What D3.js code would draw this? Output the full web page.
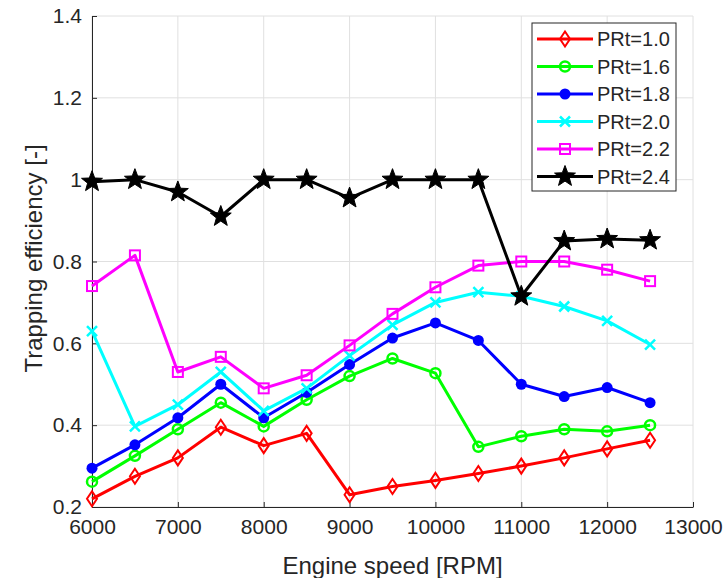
<!DOCTYPE html>
<html>
<head>
<meta charset="utf-8">
<script src="https://cdn.jsdelivr.net/npm/d3@7"></script>
<style>
  body { margin: 0; background: #fff; }
  text { font-family: "Liberation Sans", Arial, Helvetica, sans-serif; fill: #262626; }
</style>
</head>
<body>
<div id="chart-area"></div>
<script>
// Data
var speeds = [6000, 6500, 7000, 7500, 8000, 8500, 9000, 9500, 10000, 10500, 11000, 11500, 12000, 12500];
var prt10 = [0.22, 0.275, 0.32, 0.395, 0.35, 0.38, 0.23, 0.25, 0.265, 0.282, 0.30, 0.32, 0.342, 0.363];
var prt16 = [0.262, 0.325, 0.39, 0.455, 0.397, 0.462, 0.52, 0.563, 0.527, 0.347, 0.373, 0.39, 0.385, 0.40];
var prt18 = [0.295, 0.352, 0.418, 0.50, 0.418, 0.48, 0.548, 0.613, 0.65, 0.607, 0.50, 0.47, 0.492, 0.455];
var prt20 = [0.63, 0.397, 0.45, 0.53, 0.435, 0.49, 0.57, 0.645, 0.70, 0.725, 0.715, 0.69, 0.655, 0.597];
var prt22 = [0.74, 0.815, 0.53, 0.567, 0.49, 0.522, 0.595, 0.672, 0.737, 0.79, 0.80, 0.80, 0.78, 0.752];
var prt24 = [0.995, 1.0, 0.97, 0.91, 1.0, 1.0, 0.955, 1.0, 1.0, 1.0, 0.715, 0.85, 0.855, 0.852];
var seriesNames = ["PRt=1.0", "PRt=1.6", "PRt=1.8", "PRt=2.0", "PRt=2.2", "PRt=2.4"];
var xTicks = [6000, 7000, 8000, 9000, 10000, 11000, 12000, 13000];
var yTicks = [0.2, 0.4, 0.6, 0.8, 1.0, 1.2, 1.4];

var series = [
    { name: seriesNames[0], values: prt10, color: "#ff0000", marker: "diamond" },
    { name: seriesNames[1], values: prt16, color: "#00ff00", marker: "circle" },
    { name: seriesNames[2], values: prt18, color: "#0000ff", marker: "dot" },
    { name: seriesNames[3], values: prt20, color: "#00ffff", marker: "x" },
    { name: seriesNames[4], values: prt22, color: "#ff00ff", marker: "square" },
    { name: seriesNames[5], values: prt24, color: "#000000", marker: "star" }
];

var margin = { left: 92, right: 33, top: 16, bottom: 71 };
var width = 726 - margin.left - margin.right,
    height = 578 - margin.top - margin.bottom;

var svg = d3.select("#chart-area")
    .append("svg")
        .attr("width", 726)
        .attr("height", 578);

var g = svg.append("g")
    .attr("transform", "translate(" + margin.left + "," + margin.top + ")");

var x = d3.scaleLinear().domain([6000, 13000]).range([0, width]);
var y = d3.scaleLinear().domain([0.2, 1.4]).range([height, 0]);

// Grid
g.selectAll(".vgrid").data(xTicks).enter().append("line")
    .attr("x1", function(d){ return x(d); })
    .attr("x2", function(d){ return x(d); })
    .attr("y1", 0).attr("y2", height)
    .attr("stroke", "#e0e0e0").attr("stroke-width", 1);
g.selectAll(".hgrid").data(yTicks).enter().append("line")
    .attr("y1", function(d){ return y(d); })
    .attr("y2", function(d){ return y(d); })
    .attr("x1", 0).attr("x2", width)
    .attr("stroke", "#e0e0e0").attr("stroke-width", 1);

// Axes
var xAxis = g.append("g")
    .attr("transform", "translate(0," + height + ")")
    .call(d3.axisBottom(x).tickValues(xTicks).tickFormat(d3.format("d")).tickSizeInner(-5).tickSizeOuter(0).tickPadding(12));
var yAxis = g.append("g")
    .call(d3.axisLeft(y).tickValues(yTicks).tickFormat(function(d){ return d === 1 ? "1" : d3.format(".1f")(d); }).tickSizeInner(-5).tickSizeOuter(0).tickPadding(10));

[xAxis, yAxis].forEach(function(a){
    a.select(".domain").attr("stroke", "#262626").attr("stroke-width", 1);
    a.selectAll(".tick line").attr("stroke", "#262626");
    a.selectAll(".tick text").attr("font-size", "21px").attr("fill", "#262626")
        .style("font-family", "'Liberation Sans', Arial, Helvetica, sans-serif");
});

// Labels
g.append("text")
    .attr("x", width / 2)
    .attr("y", height + 67)
    .attr("text-anchor", "middle")
    .attr("font-size", "24px")
    .text("Engine speed [RPM]");

g.append("text")
    .attr("transform", "rotate(-90)")
    .attr("x", -(height / 2) + 3)
    .attr("y", -50)
    .attr("text-anchor", "middle")
    .attr("font-size", "24px")
    .text("Trapping efficiency [-]");

// Markers
function drawMarker(sel, type, color) {
    if (type === "diamond") {
        sel.append("path").attr("d", "M0,-7.5L5,0L0,7.5L-5,0Z")
            .attr("fill", "none").attr("stroke", color).attr("stroke-width", 2);
    } else if (type === "circle") {
        sel.append("circle").attr("r", 5)
            .attr("fill", "none").attr("stroke", color).attr("stroke-width", 2.5);
    } else if (type === "dot") {
        sel.append("circle").attr("r", 5.5).attr("fill", color);
    } else if (type === "x") {
        sel.append("path").attr("d", "M-5,-5L5,5M-5,5L5,-5")
            .attr("stroke", color).attr("stroke-width", 2.5);
    } else if (type === "square") {
        sel.append("rect").attr("x", -5).attr("y", -5).attr("width", 10).attr("height", 10)
            .attr("fill", "none").attr("stroke", color).attr("stroke-width", 2);
    } else if (type === "star") {
        var pts = [];
        for (var i = 0; i < 10; i++) {
            var r = i % 2 === 0 ? 11 : 4.6;
            var a = -Math.PI / 2 + i * Math.PI / 5;
            pts.push([r * Math.cos(a), r * Math.sin(a)]);
        }
        sel.append("path").attr("d", "M" + pts.join("L") + "Z")
            .attr("fill", color).attr("stroke", color).attr("stroke-width", 1);
    }
}

var line = d3.line()
    .x(function(d, i){ return x(speeds[i]); })
    .y(function(d){ return y(d); });

series.forEach(function(s) {
    g.append("path")
        .datum(s.values)
        .attr("fill", "none")
        .attr("stroke", s.color)
        .attr("stroke-width", 3)
        .attr("stroke-linejoin", "round")
        .attr("d", line);

    g.selectAll(null).data(s.values).enter().append("g")
        .attr("transform", function(d, i){ return "translate(" + x(speeds[i]) + "," + y(d) + ")"; })
        .each(function(){ drawMarker(d3.select(this), s.marker, s.color); });
});

// Legend
var legend = g.append("g").attr("transform", "translate(" + (532 - margin.left) + "," + (23 - margin.top) + ")");
legend.append("rect")
    .attr("width", 144).attr("height", 168)
    .attr("fill", "#fff").attr("stroke", "#262626").attr("stroke-width", 1);

series.forEach(function(s, i) {
    var row = legend.append("g").attr("transform", "translate(0," + (16 + i * 27.5) + ")");
    row.append("line").attr("x1", 5).attr("x2", 61).attr("y1", 0).attr("y2", 0)
        .attr("stroke", s.color).attr("stroke-width", 3);
    var m = row.append("g").attr("transform", "translate(33,0)");
    drawMarker(m, s.marker, s.color);
    row.append("text").attr("x", 65).attr("y", 7).attr("font-size", "20px").text(s.name);
});
</script>
</body>
</html>
